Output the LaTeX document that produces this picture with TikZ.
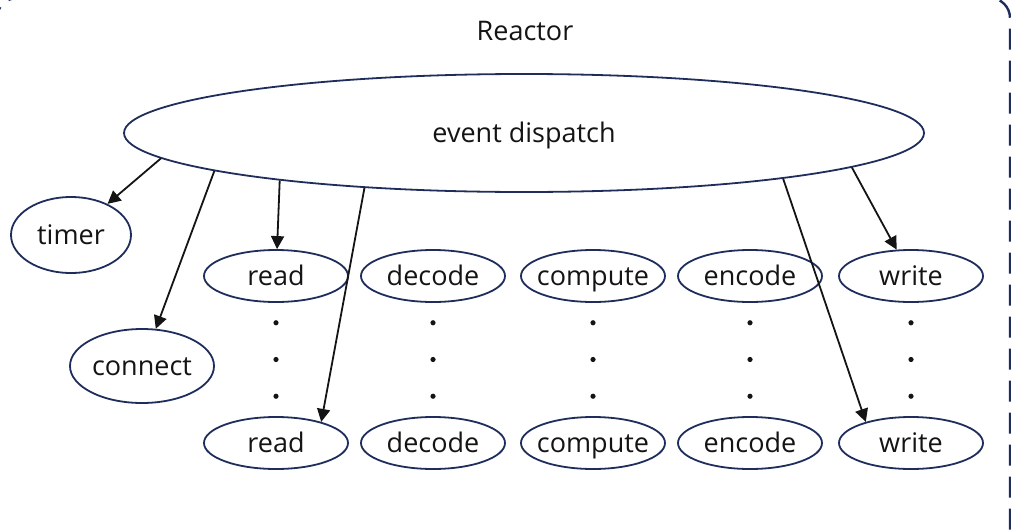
\documentclass[tikz,border=0pt]{standalone}
\usepackage{fontspec}
\setmainfont{Open Sans}
\usetikzlibrary{arrows.meta,shapes.geometric,calc}
\definecolor{RNavy}{HTML}{1F2D5C}
\definecolor{RInk}{HTML}{141414}
% 文字不撑大椭圆, 基线统一
\newcommand{\fixw}[1]{\makebox[0pt]{\vphantom{X}\smash{#1}}}

\begin{document}
\begin{tikzpicture}[
    x=1pt, y=-1pt,
    font=\fontsize{27}{31}\selectfont,
    % 默认箭头样式
    >={Triangle[length=13pt,width=13pt]},
    line width=1.8pt,
    evt/.style={ellipse, draw=RNavy, text=RInk, inner sep=0pt},
    stage/.style={evt, minimum width=144pt, minimum height=52pt},
    arr/.style={->, RInk, line width=1.8pt}
]

    \useasboundingbox (0,0) rectangle (1011,530);

    % --- 1. 外框 ---
    \draw[RNavy, line width=2.4pt, dash pattern=on 21pt off 11pt,
          rounded corners=20pt] (-3,-2) rectangle (1010,560);
    \node[text=RInk] (reactor) at (525,31) {\fixw{Reactor}};

    % --- 2. 事件分发 ---
    \node[evt, minimum width=800pt, minimum height=118pt] (dispatch)
        at (524,133) {\fixw{event dispatch}};
    \node[evt, minimum width=120pt, minimum height=76pt] (timer)
        at (71,235) {\fixw{timer}};
    \node[evt, minimum width=144pt, minimum height=74pt] (connect)
        at (142,366) {\fixw{connect}};

    % --- 3. 处理阶段 ---
    \foreach \n/\txt/\x in {
        r/read/276,
        d/decode/433,
        c/compute/593,
        e/encode/750,
        w/write/911
    } {
        \node[stage] (\n1) at (\x,276) {\fixw{\txt}};
        \node[stage] (\n2) at (\x,443) {\fixw{\txt}};
        \foreach \t in {0.28,0.5,0.72}
            \fill[RInk] ($(\n1)!\t!(\n2)$) circle (2.6pt);
    }

    % --- 4. 箭头 ---
    \draw[arr] (dispatch.184.3) -- (timer);
    \draw[arr] (dispatch.187.3) -- (connect);
    \draw[arr] (dispatch.191.8) -- (r1);
    \draw[arr] (dispatch.199.9) -- (r2.25);
    \draw[arr] (dispatch.350.7) -- (w2.155);
    \draw[arr] (dispatch.354.1) -- (w1);

\end{tikzpicture}
\end{document}
